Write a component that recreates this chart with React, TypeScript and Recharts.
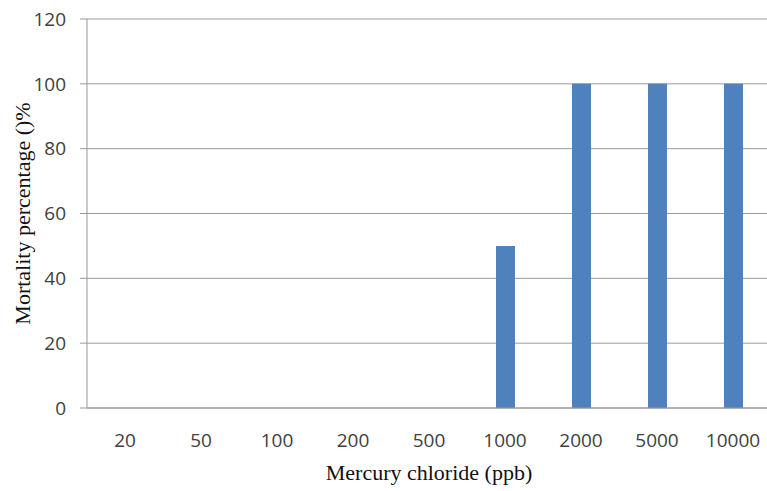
import { BarChart, Bar, XAxis, YAxis, CartesianGrid } from "recharts";

const categories = ["20", "50", "100", "200", "500", "1000", "2000", "5000", "10000"];
const mortality = [0, 0, 0, 0, 0, 50, 100, 100, 100];
const yTicks = [0, 20, 40, 60, 80, 100, 120];

const data = categories.map((c, i) => ({ dose: c, mortality: mortality[i] }));

const tickFont = { fontSize: 19, fill: "#404040", fontFamily: "Open Sans" };
const titleFont = { fontSize: 22, fill: "#111", fontFamily: "Liberation Serif" };

export default function App() {
  return (
    <div style={{ position: "absolute", left: 0, top: 0, width: 767, height: 491, overflow: "hidden", background: "#fff" }}>
      <BarChart
        width={780}
        height={491}
        data={data}
        margin={{ top: 19, right: 9, left: 0, bottom: 0 }}
      >
        <CartesianGrid vertical={false} stroke="#999" />
        <XAxis
          dataKey="dose"
          height={83}
          tick={tickFont}
          tickLine={false}
          tickSize={0}
          tickMargin={26}
          axisLine={{ stroke: "#999" }}
          label={{
            content: ({ viewBox }: any) => (
              <text
                x={viewBox.x + viewBox.width / 2}
                y={viewBox.y + viewBox.height - 11}
                textAnchor="middle"
                style={titleFont}
              >
                Mercury chloride (ppb)
              </text>
            ),
          }}
        />
        <YAxis
          width={87}
          domain={[0, 120]}
          ticks={yTicks}
          interval={0}
          tick={tickFont}
          tickSize={7}
          tickMargin={14}
          tickLine={{ stroke: "#999" }}
          axisLine={{ stroke: "#999" }}
          label={{
            content: ({ viewBox }: any) => {
              const cx = 22;
              const cy = viewBox.y + viewBox.height / 2;
              return (
                <text
                  x={cx}
                  y={cy}
                  transform={`rotate(-90 ${cx} ${cy})`}
                  textAnchor="middle"
                  dominantBaseline="central"
                  style={titleFont}
                >
                  Mortality percentage ()%
                </text>
              );
            },
          }}
        />
        <Bar dataKey="mortality" fill="#4f81bd" barSize={19} isAnimationActive={false} />
      </BarChart>
    </div>
  );
}
